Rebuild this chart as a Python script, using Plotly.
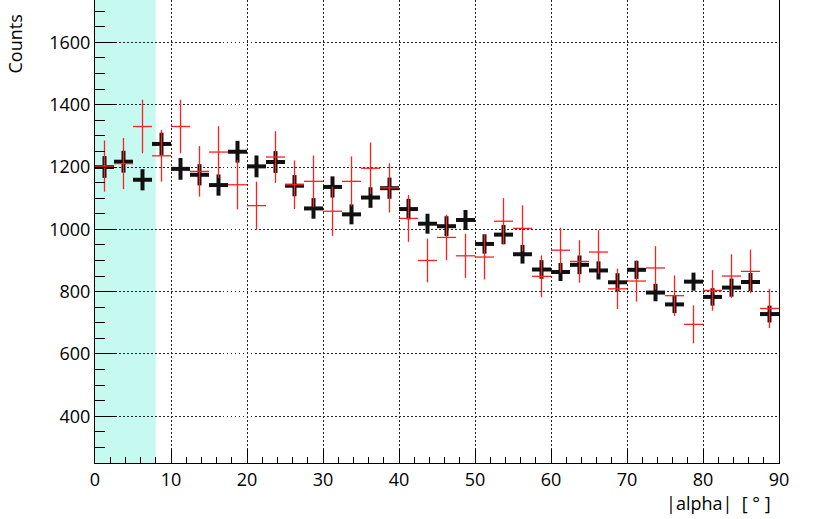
import plotly.graph_objects as go

# bin centres of |alpha| histogram (2.5 deg bins)
alpha = [1.25 + 2.5 * i for i in range(36)]

on_counts = [1200, 1217, 1159, 1274, 1194, 1175, 1142, 1249, 1202, 1216, 1140, 1067,
             1136, 1048, 1102, 1132, 1065, 1018, 1010, 1030, 953, 983, 920, 871,
             863, 886, 868, 830, 870, 797, 759, 832, 783, 813, 831, 728]
on_errors = [35, 35, 34, 36, 35, 34, 34, 35, 35, 35, 34, 33,
             34, 32, 33, 34, 33, 32, 32, 32, 31, 31, 30, 30,
             29, 30, 29, 29, 29, 28, 28, 29, 28, 29, 29, 27]

off_counts = [1203, 1211, 1330, 1236, 1330, 1186, 1248, 1143, 1076, 1232, 1143, 1154,
              1058, 1154, 1196, 1133, 1035, 900, 974, 915, 911, 1026, 1003, 849,
              933, 897, 927, 809, 834, 876, 787, 695, 804, 850, 865, 746]
off_errors = [82, 82, 86, 83, 86, 81, 83, 79, 77, 83, 78, 83,
              79, 80, 83, 79, 75, 70, 73, 71, 72, 74, 74, 67,
              72, 68, 70, 65, 66, 70, 65, 61, 65, 70, 70, 63]

signal_cut = 8
font = "Open Sans"

fig = go.Figure()

fig.add_trace(
    go.Scatter(
        x=alpha,
        y=on_counts,
        mode="markers",
        marker=dict(size=0.1, color="rgba(0,0,0,0)"),
        error_x=dict(type="constant", value=1.25, width=0, thickness=4, color="#111111"),
        error_y=dict(type="data", array=on_errors, width=0, thickness=4, color="#111111"),
        showlegend=False,
    )
)

fig.add_trace(
    go.Scatter(
        x=alpha,
        y=off_counts,
        mode="markers",
        marker=dict(size=0.1, color="rgba(0,0,0,0)"),
        error_x=dict(type="constant", value=1.25, width=0, thickness=1.3, color="#ff2020"),
        error_y=dict(type="data", array=off_errors, width=0, thickness=1.3, color="#ff2020"),
        showlegend=False,
    )
)

fig.add_shape(
    type="rect", xref="x", yref="paper",
    x0=0, x1=signal_cut, y0=0, y1=1,
    fillcolor="#c6faf0", line=dict(width=0), layer="below",
)

axis_common = dict(
    showline=True,
    linecolor="black",
    linewidth=1,
    mirror=True,
    ticks="inside",
    tickcolor="black",
    tickwidth=1,
    showgrid=True,
    gridcolor="#222222",
    gridwidth=1,
    griddash="1.5px,2.5px",
    zeroline=False,
    tickfont=dict(family=font, size=18, color="black"),
)

fig.update_layout(
    width=831,
    height=519,
    margin=dict(l=95, r=52, t=0, b=56),
    paper_bgcolor="white",
    plot_bgcolor="rgba(0,0,0,0)",
    xaxis=dict(
        range=[0, 90],
        dtick=10,
        ticklen=14,
        minor=dict(dtick=2, ticks="inside", ticklen=6, tickcolor="black", showgrid=False),
        **axis_common,
    ),
    yaxis=dict(
        range=[250, 1736],
        tick0=0,
        dtick=200,
        ticklen=22,
        minor=dict(dtick=50, ticks="inside", ticklen=10, tickcolor="black", showgrid=False),
        **axis_common,
    ),
    annotations=[
        dict(
            text="Counts",
            xref="paper", yref="paper",
            x=-0.117, y=0.974,
            xanchor="center", yanchor="top",
            textangle=-90,
            showarrow=False,
            font=dict(family=font, size=18, color="black"),
        ),
        dict(
            text="|alpha|\u00a0\u00a0[\u00a0°\u00a0]",
            xref="paper", yref="paper",
            x=0.991, y=-0.0864,
            xanchor="right", yanchor="middle",
            showarrow=False,
            font=dict(family=font, size=18, color="black"),
        ),
    ],
)

fig.write_html(
    "out.html",
    config={"displayModeBar": False},
    post_script="document.body.style.margin='0';",
)
